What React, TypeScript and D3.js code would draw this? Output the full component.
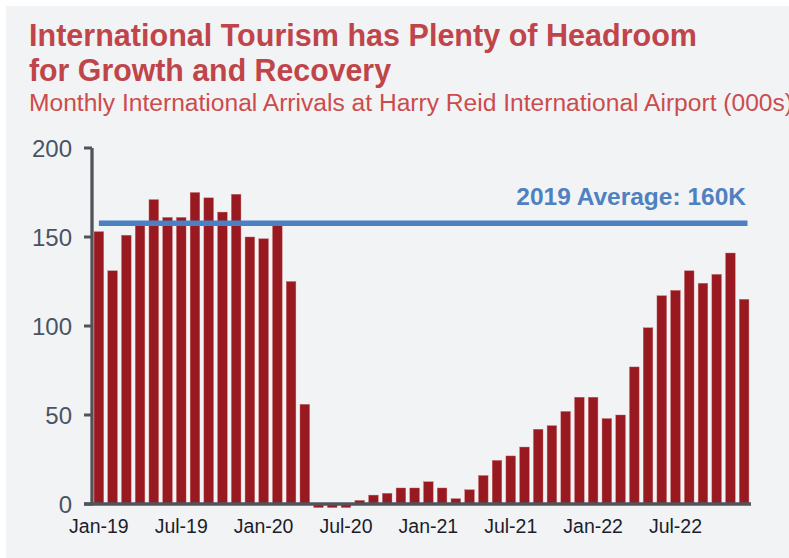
import React from "react";
import * as d3 from "d3";

const months: string[] = [
  "Jan-19","Feb-19","Mar-19","Apr-19","May-19","Jun-19","Jul-19","Aug-19","Sep-19","Oct-19","Nov-19","Dec-19",
  "Jan-20","Feb-20","Mar-20","Apr-20","May-20","Jun-20","Jul-20","Aug-20","Sep-20","Oct-20","Nov-20","Dec-20",
  "Jan-21","Feb-21","Mar-21","Apr-21","May-21","Jun-21","Jul-21","Aug-21","Sep-21","Oct-21","Nov-21","Dec-21",
  "Jan-22","Feb-22","Mar-22","Apr-22","May-22","Jun-22","Jul-22","Aug-22","Sep-22","Oct-22","Nov-22","Dec-22",
];

const arrivals: number[] = [
  153, 131, 151, 157, 171, 161, 161, 175, 172, 164, 174, 150,
  149, 157, 125, 56, -2, -2, -2, 2, 5, 6, 9, 9,
  12.5, 9, 3, 8, 16, 24.5, 27, 32, 42, 44, 52, 60,
  60, 48, 50, 77, 99, 117, 120, 131, 124, 129, 141, 115,
];

const yTicks: number[] = [0, 50, 100, 150, 200];
const xTickLabels: string[] = ["Jan-19","Jul-19","Jan-20","Jul-20","Jan-21","Jul-21","Jan-22","Jul-22"];
const averageLineValue = 157.7;
const averageLabel = "2019 Average: 160K";

const W = 789, H = 558;

export default function App() {
  const x = d3.scaleBand<string>().domain(months).range([92, 751]).paddingInner(0.3).paddingOuter(0.15);
  const y = d3.scaleLinear().domain([0, 200]).range([504, 148]);
  const bw = x.bandwidth();
  const font = "'Liberation Sans', Arial, sans-serif";
  const lx1 = (x(months[0]) as number) + bw / 2;
  const lx2 = (x(months[months.length - 1]) as number) + bw * 0.85;

  return (
    <svg width={W} height={H} style={{ position: "absolute", left: 0, top: 0 }} fontFamily={font}>
      <rect x={0} y={0} width={W} height={H} fill="#ffffff" />
      <rect x={6} y={6} width={W - 6} height={H - 6} fill="#f2f3f5" />
      <text x={29} y={46} fontSize={32} fontWeight="bold" fill="#c0454a" textLength={668} lengthAdjust="spacingAndGlyphs">
        International Tourism has Plenty of Headroom
      </text>
      <text x={29} y={81} fontSize={32} fontWeight="bold" fill="#c0454a" textLength={362} lengthAdjust="spacingAndGlyphs">
        for Growth and Recovery
      </text>
      <text x={29} y={111} fontSize={23} fill="#cc4c4c" textLength={764} lengthAdjust="spacingAndGlyphs">
        Monthly International Arrivals at Harry Reid International Airport (000s)
      </text>

      {arrivals.map((v, i) => (
        <rect
          key={months[i]}
          x={x(months[i])}
          y={Math.min(y(v), y(0))}
          width={bw}
          height={Math.abs(y(v) - y(0))}
          fill="#981a20"
          stroke="#c46a6a"
          strokeWidth={0.4}
        />
      ))}

      <line x1={lx1} x2={lx2} y1={y(averageLineValue)} y2={y(averageLineValue)} stroke="#4b80c2" strokeWidth={5.5} />
      <text x={746} y={205} textAnchor="end" fontSize={24.5} fontWeight="bold" fill="#4f81c1">
        {averageLabel}
      </text>

      <line x1={92} x2={92} y1={y(200)} y2={y(0) + 1.5} stroke="#505459" strokeWidth={3.3} />
      <line x1={84} x2={751} y1={y(0)} y2={y(0)} stroke="#505459" strokeWidth={3.3} />
      {yTicks.map((t) => (
        <g key={t}>
          <line x1={84} x2={92} y1={y(t)} y2={y(t)} stroke="#505459" strokeWidth={3} />
          <text x={72} y={y(t)} dy="0.36em" textAnchor="end" fontSize={24} fill="#4a5362">
            {t}
          </text>
        </g>
      ))}
      {xTickLabels.map((l) => (
        <text key={l} x={(x(l) as number) + bw / 2} y={533} textAnchor="middle" fontSize={19.5} fill="#1c1d2b">
          {l}
        </text>
      ))}
    </svg>
  );
}
